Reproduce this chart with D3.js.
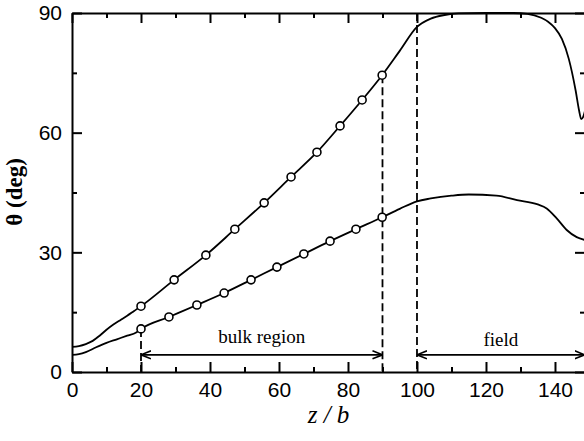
<!DOCTYPE html>
<html>
<head>
<meta charset="utf-8">
<script src="https://cdn.jsdelivr.net/npm/d3@7"></script>
<style>
  body { margin: 0; background: #fff; }
  svg { display: block; font-family: "Liberation Serif", "Times New Roman", serif; }
</style>
</head>
<body>
<svg width="584" height="441"></svg>
<script>
// curve: z / b and theta (deg)
var upperZ     = [0, 2, 4, 6, 8, 10, 12, 14, 16, 18, 20, 29.6, 38.8, 47.2, 55.7, 63.5, 71.0, 77.7, 84.1, 89.9, 95, 100, 104, 108, 112, 120, 128, 132, 136, 138, 140, 142, 144, 146, 147, 147.6, 148.2, 148.7];
var upperTheta = [6.3, 6.5, 7.0, 7.8, 9.1, 10.6, 11.9, 13.0, 14.1, 15.3, 16.5, 23.1, 29.3, 35.8, 42.4, 48.9, 55.1, 61.7, 68.2, 74.4, 80.5, 86.5, 88.6, 89.5, 89.9, 90, 90, 89.8, 88.8, 87.8, 86.2, 83.5, 78.5, 70.5, 65.5, 63.4, 64.0, 65.5];

var lowerZ     = [0, 2, 4, 7, 10, 13, 16, 18.6, 20, 28.1, 36.2, 44.1, 51.9, 59.4, 67.2, 74.8, 82.3, 89.9, 95, 100, 104, 110, 115, 123, 129, 135, 137.6, 140.5, 143.4, 146.3, 148.7];
var lowerTheta = [4.3, 4.5, 5.0, 6.2, 7.3, 8.2, 9.1, 9.9, 10.8, 13.8, 16.8, 19.8, 23.1, 26.3, 29.6, 32.8, 35.8, 38.8, 40.9, 42.8, 43.5, 44.2, 44.5, 44.2, 43.1, 42.0, 41.0, 38.5, 35.6, 33.8, 33.1];

// open circle markers
var upperMarkZ     = [20, 29.6, 38.8, 47.2, 55.7, 63.5, 71.0, 77.7, 84.1, 89.9];
var upperMarkTheta = [16.5, 23.1, 29.3, 35.8, 42.4, 48.9, 55.1, 61.7, 68.2, 74.4];
var lowerMarkZ     = [20, 28.1, 36.2, 44.1, 51.9, 59.4, 67.2, 74.8, 82.3, 89.9];
var lowerMarkTheta = [10.8, 13.8, 16.8, 19.8, 23.1, 26.3, 29.6, 32.8, 35.8, 38.8];

// ticks
var xMajor = [0, 20, 40, 60, 80, 100, 120, 140];
var xMinor = [10, 30, 50, 70, 90, 110, 130];
var yMajor = [0, 30, 60, 90];
var yMinor = [15, 45, 75];

// annotations
var dashedZ    = [20, 90, 100];
var dashedTop  = [10.8, 74.4, 90];
var regionNames = ['bulk region', 'field'];
var regionFrom  = [20, 100];
var regionTo    = [90, 148.6];
var regionTextTheta = [7.35, 6.5];
var arrowTheta = 4.3;

var svg = d3.select('svg');
var width = +svg.attr('width');
var height = +svg.attr('height');

var x = d3.scaleLinear().domain([0, 148.7]).range([72, 585]);
var y = d3.scaleLinear().domain([0, 90]).range([372, 13]);

svg.append('rect').attr('width', width).attr('height', height).attr('fill', '#fff');

var defs = svg.append('defs');
defs.append('marker')
    .attr('id', 'head')
    .attr('viewBox', '0 -5 10 10')
    .attr('refX', 10)
    .attr('refY', 0)
    .attr('markerUnits', 'userSpaceOnUse')
    .attr('markerWidth', 10)
    .attr('markerHeight', 10)
    .attr('orient', 'auto-start-reverse')
    .append('path')
    .attr('d', 'M0,-4L10,0L0,4')
    .attr('fill', 'none')
    .attr('stroke', '#000')
    .attr('stroke-width', 1.6);

// axes
function styleAxis(g) {
    g.select('.domain').attr('stroke-width', 2);
    g.selectAll('.tick line').attr('stroke-width', 2);
    g.selectAll('text').style('font-size', '21px').attr('fill', '#000');
}

svg.append('g')
    .attr('transform', 'translate(0,' + y(0) + ')')
    .call(d3.axisBottom(x).tickValues(xMajor).tickSize(-10).tickSizeOuter(0).tickPadding(10).tickFormat(d3.format('d')))
    .call(styleAxis);
svg.append('g')
    .attr('transform', 'translate(0,' + y(0) + ')')
    .call(d3.axisBottom(x).tickValues(xMinor).tickSize(-5).tickFormat(''))
    .call(function(g) { g.select('.domain').remove(); g.selectAll('line').attr('stroke-width', 2); });

svg.append('g')
    .attr('transform', 'translate(0,' + y(90) + ')')
    .call(d3.axisTop(x).tickValues(xMajor).tickSize(-10).tickSizeOuter(0).tickFormat(''))
    .call(styleAxis);
svg.append('g')
    .attr('transform', 'translate(0,' + y(90) + ')')
    .call(d3.axisTop(x).tickValues(xMinor).tickSize(-5).tickFormat(''))
    .call(function(g) { g.select('.domain').remove(); g.selectAll('line').attr('stroke-width', 2); });

svg.append('g')
    .attr('transform', 'translate(' + x(0) + ',0)')
    .call(d3.axisLeft(y).tickValues(yMajor).tickSize(-10).tickSizeOuter(0).tickPadding(10))
    .call(styleAxis);
svg.append('g')
    .attr('transform', 'translate(' + x(0) + ',0)')
    .call(d3.axisLeft(y).tickValues(yMinor).tickSize(-5).tickFormat(''))
    .call(function(g) { g.select('.domain').remove(); g.selectAll('line').attr('stroke-width', 2); });

svg.append('g')
    .attr('transform', 'translate(' + x(148.7) + ',0)')
    .call(d3.axisRight(y).tickValues(yMajor).tickSize(-10).tickSizeOuter(0).tickFormat(''))
    .call(styleAxis);
svg.append('g')
    .attr('transform', 'translate(' + x(148.7) + ',0)')
    .call(d3.axisRight(y).tickValues(yMinor).tickSize(-5).tickFormat(''))
    .call(function(g) { g.select('.domain').remove(); g.selectAll('line').attr('stroke-width', 2); });

// axis titles
svg.append('text')
    .attr('transform', 'translate(22,192) rotate(-90)')
    .attr('text-anchor', 'middle')
    .style('font-size', '23px')
    .style('font-weight', 'bold')
    .text('θ (deg)');

svg.append('text')
    .attr('x', (x.range()[0] + x.range()[1]) / 2)
    .attr('y', 423)
    .attr('text-anchor', 'middle')
    .style('font-size', '25px')
    .style('font-style', 'italic')
    .text('z / b');

// dashed guides
svg.selectAll('.guide')
    .data(dashedZ)
    .enter()
    .append('line')
    .attr('class', 'guide')
    .attr('x1', function(d) { return x(d); })
    .attr('x2', function(d) { return x(d); })
    .attr('y1', function(d, i) { return y(dashedTop[i]); })
    .attr('y2', y(0))
    .attr('stroke', '#000')
    .attr('stroke-width', 1.8)
    .attr('stroke-dasharray', '8,4');

// region arrows
svg.selectAll('.region')
    .data(regionNames)
    .enter()
    .append('line')
    .attr('class', 'region')
    .attr('x1', function(d, i) { return x(regionFrom[i]); })
    .attr('x2', function(d, i) { return x(regionTo[i]); })
    .attr('y1', y(arrowTheta))
    .attr('y2', y(arrowTheta))
    .attr('stroke', '#000')
    .attr('stroke-width', 1.6)
    .attr('marker-start', 'url(#head)')
    .attr('marker-end', 'url(#head)');

svg.selectAll('.regionLabel')
    .data(regionNames)
    .enter()
    .append('text')
    .attr('class', 'regionLabel')
    .attr('x', function(d, i) { return (x(regionFrom[i]) + x(regionTo[i])) / 2; })
    .attr('y', function(d, i) { return y(regionTextTheta[i]); })
    .attr('text-anchor', 'middle')
    .style('font-size', '19px')
    .text(function(d) { return d; });

// curves
var line = d3.line()
    .x(function(d) { return x(d[0]); })
    .y(function(d) { return y(d[1]); })
    .curve(d3.curveMonotoneX);

var curves = [d3.zip(upperZ, upperTheta), d3.zip(lowerZ, lowerTheta)];
svg.selectAll('.curve')
    .data(curves)
    .enter()
    .append('path')
    .attr('class', 'curve')
    .attr('d', line)
    .attr('fill', 'none')
    .attr('stroke', '#000')
    .attr('stroke-width', 1.8);

var marks = d3.zip(upperMarkZ, upperMarkTheta).concat(d3.zip(lowerMarkZ, lowerMarkTheta));
svg.selectAll('.mark')
    .data(marks)
    .enter()
    .append('circle')
    .attr('class', 'mark')
    .attr('cx', function(d) { return x(d[0]); })
    .attr('cy', function(d) { return y(d[1]); })
    .attr('r', 4)
    .attr('fill', '#fff')
    .attr('stroke', '#000')
    .attr('stroke-width', 1.6);
</script>
</body>
</html>
